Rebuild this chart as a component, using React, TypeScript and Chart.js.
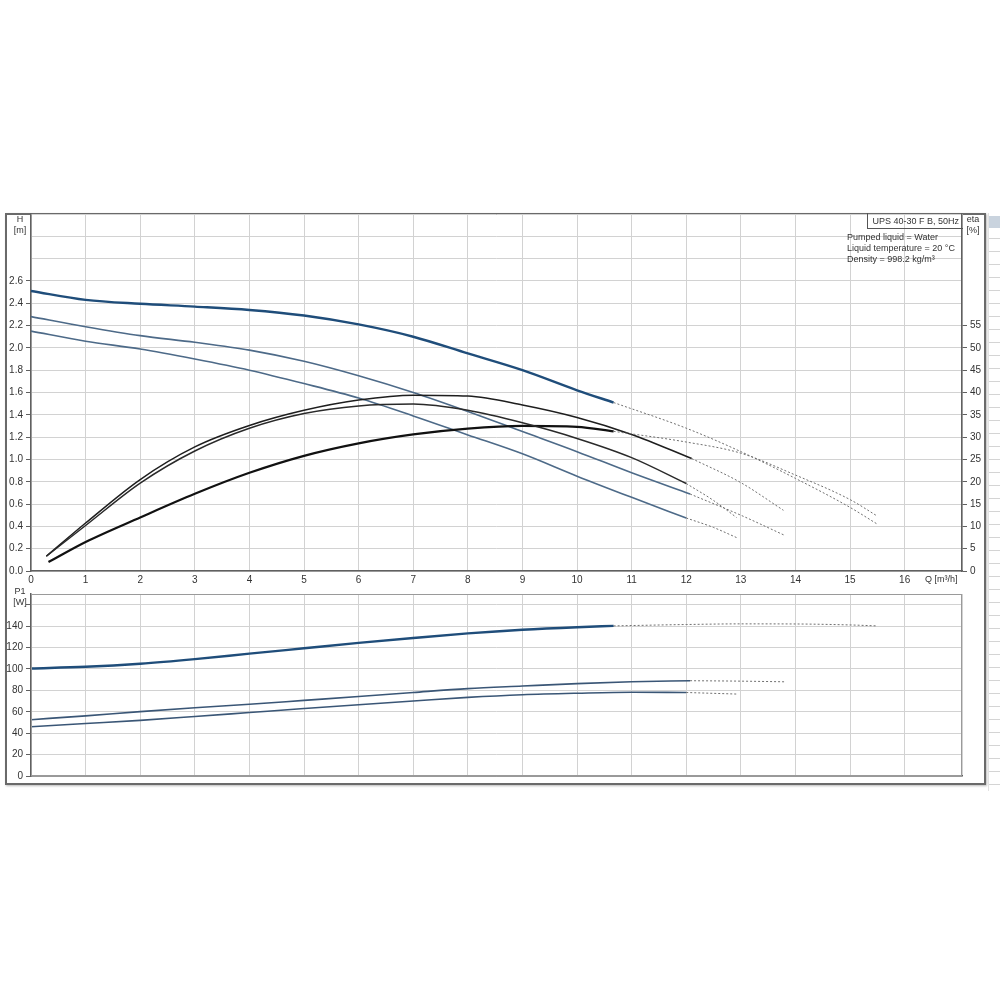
import React, { useEffect, useRef } from "react";
import { Chart, registerables } from "chart.js";
Chart.register(...registerables);

// ---------- Head curves H [m] vs Q [m³/h] ----------
const Q_H_S3 = [0, 1, 2, 3, 4, 5, 6, 7, 8, 9, 10, 10.67];
const H_S3 = [2.51, 2.43, 2.395, 2.37, 2.34, 2.29, 2.21, 2.1, 1.95, 1.8, 1.62, 1.51];
const Q_H_S3_EXT = [10.67, 12, 13, 14, 15, 15.5];
const H_S3_EXT = [1.51, 1.28, 1.07, 0.83, 0.57, 0.42];

const Q_H_S2 = [0, 1, 2, 3, 4, 5, 6, 7, 8, 9, 10, 11, 12.07];
const H_S2 = [2.28, 2.19, 2.11, 2.05, 1.98, 1.88, 1.75, 1.6, 1.43, 1.25, 1.07, 0.88, 0.69];
const Q_H_S2_EXT = [12.07, 13, 13.8];
const H_S2_EXT = [0.69, 0.5, 0.32];

const Q_H_S1 = [0, 1, 2, 3, 4, 5, 6, 7, 8, 9, 10, 11, 12];
const H_S1 = [2.15, 2.06, 1.99, 1.9, 1.8, 1.68, 1.55, 1.39, 1.22, 1.05, 0.85, 0.66, 0.475];
const Q_H_S1_EXT = [12, 12.5, 12.92];
const H_S1_EXT = [0.475, 0.39, 0.3];

// ---------- Efficiency curves eta [%] ----------
const Q_ETA_S3 = [0.32, 1, 2, 3, 4, 5, 6, 7, 8, 9, 10, 10.67];
const ETA_S3 = [2.0, 6.5, 12.0, 17.3, 22.0, 25.8, 28.6, 30.6, 31.9, 32.5, 32.3, 31.3];
const Q_ETA_S3_EXT = [10.67, 12, 13, 14, 15, 15.5];
const ETA_S3_EXT = [31.3, 28.9, 26.4, 21.5, 16.0, 12.3];

const Q_ETA_S2 = [0.28, 1, 2, 3, 4, 5, 6, 7, 8, 9, 10, 11, 12.1];
const ETA_S2 = [3.3, 10.75, 20.5, 27.8, 32.6, 36.0, 38.3, 39.4, 39.2, 37.2, 34.4, 30.6, 25.2];
const Q_ETA_S2_EXT = [12.1, 13, 13.78];
const ETA_S2_EXT = [25.2, 19.8, 13.6];

const Q_ETA_S1 = [0.28, 1, 2, 3, 4, 5, 6, 7, 8, 9, 10, 11, 12];
const ETA_S1 = [3.3, 10.2, 19.7, 26.9, 32.0, 35.3, 37.0, 37.4, 36.0, 33.2, 29.7, 25.4, 19.6];
const Q_ETA_S1_EXT = [12, 12.5, 12.92];
const ETA_S1_EXT = [19.6, 15.8, 12.0];

// ---------- Power curves P1 [W] ----------
const Q_P_S3 = [0, 1, 2, 3, 4, 5, 6, 7, 8, 9, 10, 10.67];
const P_S3 = [100.4, 102, 104.9, 109.2, 114.3, 119.3, 124.3, 128.9, 133.2, 136.6, 139, 140.2];
const Q_P_S3_EXT = [10.67, 12, 13, 14, 15, 15.5];
const P_S3_EXT = [140.2, 141.5, 142.1, 142, 141.1, 140.2];

const Q_P_S2 = [0, 1, 2, 3, 4, 5, 6, 7, 8, 9, 10, 11, 12.07];
const P_S2 = [52.6, 56.2, 60.1, 63.7, 67, 70.6, 74.2, 78, 81.6, 84, 86.3, 88, 89];
const Q_P_S2_EXT = [12.07, 13, 13.8];
const P_S2_EXT = [89, 88.6, 88];

const Q_P_S1 = [0, 1, 2, 3, 4, 5, 6, 7, 8, 9, 10, 11, 12];
const P_S1 = [46, 49, 52, 55.6, 59.3, 63, 66.6, 70, 73.4, 75.9, 77.3, 78.2, 78];
const Q_P_S1_EXT = [12, 12.95];
const P_S1_EXT = [78, 76.5];

// ---------- Texts ----------
const PUMP_TITLE = "UPS 40-30 F B, 50Hz";
const INFO_LINES = ["Pumped liquid = Water", "Liquid temperature = 20 °C", "Density = 998.2 kg/m³"];
const X_TICK_MAX_LABEL = 16;
const H_TICK_MAX_LABEL = 2.6;
const ETA_TICK_MAX_LABEL = 55;
const P_TICK_MAX_LABEL = 140;

const FONT = '"Liberation Sans", Arial, Helvetica, sans-serif';
const GRID = "#d2d2d2";
const AXIS = "#606060";
const TXT = "#333";

function pts(xs: number[], ys: number[]) {
  return xs.map((x, i) => ({ x, y: ys[i] }));
}

function solid(xs: number[], ys: number[], color: string, width: number, axis = "y") {
  return {
    data: pts(xs, ys),
    borderColor: color,
    borderWidth: width,
    pointRadius: 0,
    fill: false,
    cubicInterpolationMode: "monotone",
    yAxisID: axis,
  };
}
function dotted(xs: number[], ys: number[], axis = "y") {
  return {
    data: pts(xs, ys),
    borderColor: "#6f6f6f",
    borderWidth: 1,
    borderDash: [2, 2],
    pointRadius: 0,
    fill: false,
    cubicInterpolationMode: "monotone",
    yAxisID: axis,
  };
}

const boxPlugin = {
  id: "boxFrame",
  afterDraw(chart: any, _a: any, opts: any) {
    if (!opts || !opts.color) return;
    const { ctx, chartArea: a } = chart;
    ctx.save();
    ctx.strokeStyle = opts.color;
    ctx.lineWidth = 1;
    ctx.strokeRect(Math.round(a.left) + 0.5, Math.round(a.top) + 0.5, Math.round(a.width) - 1, Math.round(a.height) - 1);
    ctx.restore();
  },
};

const tickFont = { family: FONT, size: 10 };

export default function App() {
  const topRef = useRef<HTMLCanvasElement>(null);
  const botRef = useRef<HTMLCanvasElement>(null);

  useEffect(() => {
    const top = new Chart(topRef.current as HTMLCanvasElement, {
      type: "line",
      data: {
        datasets: [
          dotted(Q_H_S3_EXT, H_S3_EXT),
          dotted(Q_H_S2_EXT, H_S2_EXT),
          dotted(Q_H_S1_EXT, H_S1_EXT),
          dotted(Q_ETA_S3_EXT, ETA_S3_EXT, "eta"),
          dotted(Q_ETA_S2_EXT, ETA_S2_EXT, "eta"),
          dotted(Q_ETA_S1_EXT, ETA_S1_EXT, "eta"),
          solid(Q_ETA_S1, ETA_S1, "#2a2a2a", 1.5, "eta"),
          solid(Q_ETA_S2, ETA_S2, "#1e1e1e", 1.5, "eta"),
          solid(Q_ETA_S3, ETA_S3, "#111111", 2.2, "eta"),
          solid(Q_H_S1, H_S1, "#4d6a88", 1.6),
          solid(Q_H_S2, H_S2, "#4d6a88", 1.6),
          solid(Q_H_S3, H_S3, "#1f4d7a", 2.4),
        ] as any,
      },
      options: {
        animation: false,
        responsive: false,
        devicePixelRatio: 1,
        layout: { padding: { top: 9, left: 0, right: 0, bottom: 0 } },
        plugins: { legend: { display: false }, tooltip: { enabled: false }, boxFrame: {} } as any,
        scales: {
          x: {
            type: "linear",
            min: 0,
            max: 17.05,
            ticks: {
              stepSize: 1,
              autoSkip: false,
              maxRotation: 0,
              padding: 3,
              font: tickFont,
              color: TXT,
              callback: (v: any) => (Number(v) <= X_TICK_MAX_LABEL + 0.01 && Math.abs(v - Math.round(v)) < 1e-6 ? String(Math.round(v)) : ""),
            },
            grid: { color: GRID, drawTicks: false },
            border: { color: AXIS, width: 1.5 },
            afterFit: (s: any) => {
              s.height = 19;
            },
          },
          y: {
            type: "linear",
            position: "left",
            min: 0,
            max: 3.2,
            ticks: {
              stepSize: 0.2,
              padding: 3,
              font: tickFont,
              color: TXT,
              callback: (v: any) => (Number(v) > H_TICK_MAX_LABEL + 0.05 ? "" : Number(v).toFixed(1)),
            },
            grid: {
              color: GRID,
              tickLength: 5,
              tickColor: (c: any) => (c.tick && c.tick.value > H_TICK_MAX_LABEL + 0.05 ? "rgba(0,0,0,0)" : AXIS),
            },
            border: { color: AXIS, width: 1.5 },
            afterFit: (s: any) => {
              s.width = 31;
            },
          },
          eta: {
            type: "linear",
            position: "right",
            min: 0,
            max: 80,
            ticks: {
              stepSize: 5,
              padding: 3,
              font: tickFont,
              color: TXT,
              callback: (v: any) => (Number(v) > ETA_TICK_MAX_LABEL + 0.5 ? "" : String(Math.round(v))),
            },
            grid: {
              drawOnChartArea: false,
              tickLength: 5,
              tickColor: (c: any) => (c.tick && c.tick.value > ETA_TICK_MAX_LABEL + 0.5 ? "rgba(0,0,0,0)" : AXIS),
            },
            border: { color: AXIS, width: 1.5 },
            afterFit: (s: any) => {
              s.width = 38;
            },
          },
        } as any,
      },
      plugins: [boxPlugin],
    } as any);

    const bot = new Chart(botRef.current as HTMLCanvasElement, {
      type: "line",
      data: {
        datasets: [
          dotted(Q_P_S3_EXT, P_S3_EXT),
          dotted(Q_P_S2_EXT, P_S2_EXT),
          dotted(Q_P_S1_EXT, P_S1_EXT),
          solid(Q_P_S1, P_S1, "#3a5676", 1.6),
          solid(Q_P_S2, P_S2, "#3a5676", 1.6),
          solid(Q_P_S3, P_S3, "#1f4d7a", 2.4),
        ] as any,
      },
      options: {
        animation: false,
        responsive: false,
        devicePixelRatio: 1,
        layout: { padding: { top: 2, left: 0, right: 38, bottom: 0 } },
        plugins: { legend: { display: false }, tooltip: { enabled: false }, boxFrame: { color: "#9a9a9a" } } as any,
        scales: {
          x: {
            type: "linear",
            min: 0,
            max: 17.05,
            ticks: { stepSize: 1, display: false },
            grid: { color: GRID, drawTicks: false },
            border: { color: AXIS, width: 1.5 },
            afterFit: (s: any) => {
              s.height = 8;
            },
          },
          y: {
            type: "linear",
            position: "left",
            min: 0,
            max: 170,
            ticks: {
              stepSize: 20,
              includeBounds: false,
              padding: 3,
              font: tickFont,
              color: TXT,
              callback: (v: any) => (Number(v) > P_TICK_MAX_LABEL + 1 ? "" : String(Math.round(v))),
            },
            grid: { color: GRID, tickLength: 5, tickColor: AXIS },
            border: { color: AXIS, width: 1.5 },
            afterFit: (s: any) => {
              s.width = 31;
            },
          },
        } as any,
      },
      plugins: [boxPlugin],
    } as any);

    return () => {
      top.destroy();
      bot.destroy();
    };
  }, []);

  const small: React.CSSProperties = { position: "absolute", fontSize: 9, lineHeight: "11px", color: TXT, fontFamily: FONT, whiteSpace: "nowrap" };

  return (
    <div style={{ position: "absolute", left: 0, top: 0, width: 1000, height: 1000, background: "#fff", fontFamily: FONT }}>
      {/* outer frame */}
      <div style={{ position: "absolute", left: 5, top: 213, width: 981, height: 572, border: "2px solid #6a6a6a", boxSizing: "border-box", boxShadow: "1px 1px 2px #bbb" }} />
      {/* right side panel remnant */}
      <div
        style={{
          position: "absolute",
          left: 988,
          top: 213,
          width: 12,
          height: 578,
          background: "repeating-linear-gradient(to bottom, #ffffff 0px, #ffffff 12px, #d4d4d4 12px, #d4d4d4 13px)",
          borderLeft: "1px solid #e2e2e2",
        }}
      />
      <div style={{ position: "absolute", left: 989, top: 216, width: 11, height: 12, background: "#c9d3de" }} />

      <canvas ref={topRef} width={1000} height={385} style={{ position: "absolute", left: 0, top: 205 }} />
      <canvas ref={botRef} width={1000} height={200} style={{ position: "absolute", left: 0, top: 585 }} />

      {/* axis titles */}
      <div style={{ ...small, left: 8, width: 24, top: 214, textAlign: "center" }}>
        H<br />[m]
      </div>
      <div style={{ ...small, left: 8, width: 24, top: 586, textAlign: "center" }}>
        P1<br />[W]
      </div>
      <div style={{ ...small, left: 962, width: 22, top: 214, textAlign: "center" }}>
        eta<br />[%]
      </div>
      <div style={{ ...small, left: 925, top: 574 }}>Q [m³/h]</div>

      {/* pump title box */}
      <div
        style={{
          ...small,
          left: 867,
          top: 213,
          width: 96,
          height: 16,
          lineHeight: "16px",
          borderLeft: "1px solid #555",
          borderBottom: "1px solid #555",
          boxSizing: "border-box",
          textAlign: "right",
          paddingRight: 4,
        }}
      >
        {PUMP_TITLE}
      </div>
      {/* liquid info */}
      <div style={{ ...small, left: 847, top: 232 }}>
        {INFO_LINES.map((l, i) => (
          <div key={i}>{l}</div>
        ))}
      </div>
    </div>
  );
}
